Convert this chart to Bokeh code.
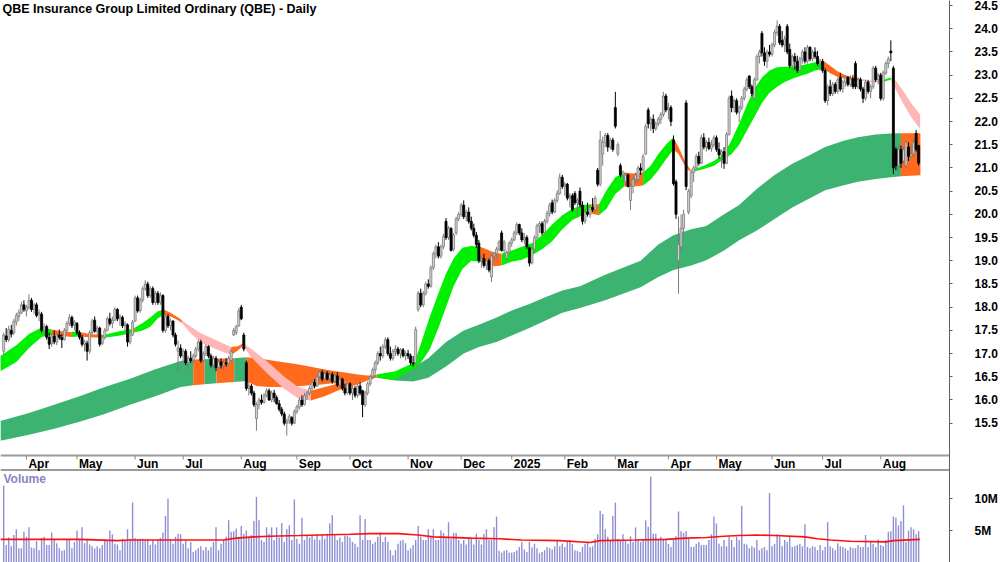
import numpy as np
from bokeh.plotting import figure
from bokeh.models import Range1d, FixedTicker, CustomJSTickFormatter, ColumnDataSource
from bokeh.core.properties import value
from bokeh.embed import file_html
from bokeh.resources import INLINE

# ---------------- data ----------------
title_text = "QBE Insurance Group Limited Ordinary (QBE) - Daily"
month_start_idx = [9, 29, 52, 71, 94, 116, 137, 160, 181, 201, 222, 242, 263, 282, 304, 324, 347]
month_labels = ["Apr", "May", "Jun", "Jul", "Aug", "Sep", "Oct", "Nov", "Dec", "2025",
                "Feb", "Mar", "Apr", "May", "Jun", "Jul", "Aug"]
price_ticks = [15.5, 16.0, 16.5, 17.0, 17.5, 18.0, 18.5, 19.0, 19.5, 20.0,
               20.5, 21.0, 21.5, 22.0, 22.5, 23.0, 23.5, 24.0, 24.5]
volume_ticks = [5, 10]

opens = [
    17.05, 17.38, 17.30, 17.50, 17.45, 17.68, 17.80, 17.88, 18.05, 17.92,
    18.00, 18.15, 17.95, 18.05, 17.85, 17.85, 17.50, 17.58, 17.35, 17.22,
    17.38, 17.25, 17.40, 17.35, 17.30, 17.50, 17.65, 17.78, 17.62, 17.65,
    17.45, 17.35, 17.20, 17.22, 17.05, 17.45, 17.72, 17.48, 17.55, 17.22,
    17.35, 17.50, 17.75, 17.65, 17.72, 17.95, 17.75, 17.78, 17.60, 17.62,
    17.25, 17.40, 17.70, 18.20, 17.92, 18.15, 18.40, 18.50, 18.25, 18.40,
    18.10, 18.30, 18.10, 18.25, 17.50, 17.80, 17.60, 17.70, 17.40, 17.05,
    17.12, 16.95, 17.05, 16.80, 16.90, 16.85, 16.95, 17.10, 17.25, 16.85,
    17.00, 17.15, 16.95, 16.75, 16.90, 16.70, 16.82, 16.75, 16.80, 16.78,
    16.85, 17.40, 17.45, 17.60, 18.00, 17.40, 16.80, 16.25, 16.30, 16.15,
    15.60, 15.90, 16.00, 15.95, 16.10, 16.20, 16.00, 16.15, 16.05, 15.92,
    15.80, 15.70, 15.50, 15.55, 15.62, 15.50, 15.75, 15.85, 16.00, 15.90,
    16.10, 16.15, 16.25, 16.38, 16.30, 16.50, 16.60, 16.45, 16.58, 16.45,
    16.55, 16.40, 16.52, 16.32, 16.45, 16.25, 16.15, 16.35, 16.15, 16.25,
    16.10, 16.30, 16.20, 15.90, 16.15, 16.35, 16.50, 16.65, 16.80, 17.00,
    16.95, 17.15, 17.30, 17.00, 16.90, 17.05, 17.10, 17.00, 17.08, 16.95,
    17.00, 16.95, 16.80, 16.80, 17.95, 18.30, 18.05, 18.30, 18.50, 18.45,
    18.85, 19.15, 19.30, 19.10, 19.30, 19.85, 19.50, 19.70, 19.25, 19.60,
    19.90, 20.00, 20.20, 19.95, 20.05, 19.85, 19.70, 19.55, 19.38, 19.00,
    19.05, 18.90, 19.00, 18.65, 19.10, 19.15, 19.25, 19.60, 19.22, 19.05,
    19.18, 19.38, 19.45, 19.60, 19.78, 19.60, 19.45, 19.50, 19.28, 18.95,
    19.25, 19.50, 19.75, 19.80, 19.60, 19.85, 20.02, 20.25, 20.05, 20.30,
    20.45, 20.80, 20.60, 20.65, 20.35, 20.40, 20.45, 20.25, 20.50, 20.20,
    19.85, 20.05, 20.00, 20.15, 20.10, 20.95, 20.65, 21.30, 21.55, 21.70,
    21.45, 21.60, 22.30, 21.30, 21.05, 20.85, 20.70, 20.85, 20.30, 20.60,
    20.75, 20.75, 21.00, 20.95, 21.30, 22.25, 21.95, 22.05, 21.85, 21.95,
    22.05, 22.15, 22.55, 22.25, 22.30, 21.60, 20.70, 19.00, 19.30, 19.70,
    22.40, 20.05, 20.40, 20.90, 21.00, 21.25, 21.10, 21.65, 21.45, 21.55,
    21.42, 21.50, 21.65, 21.40, 21.28, 21.35, 21.10, 21.72, 22.55, 22.30,
    22.45, 22.20, 22.30, 22.50, 22.70, 22.98, 22.75, 22.50, 22.90, 23.40,
    23.90, 23.48, 23.30, 23.50, 23.45, 23.65, 23.92, 24.05, 23.75, 23.65,
    24.05, 23.55, 23.20, 23.40, 23.30, 23.10, 23.35, 23.50, 23.30, 23.60,
    23.35, 23.50, 23.40, 23.25, 23.30, 23.10, 22.45, 22.75, 22.60, 22.80,
    22.65, 22.95, 22.70, 22.85, 22.95, 22.80, 22.92, 23.25, 22.75, 22.90,
    22.70, 22.50, 22.85, 22.65, 22.75, 23.15, 22.90, 23.00, 22.50, 23.05,
    23.25, 23.52, 23.15, 21.40, 21.05, 21.40, 21.15, 21.05, 21.45, 21.25,
    21.30, 21.75, 21.48]
highs = [
    17.45, 17.55, 17.60, 17.62, 17.75, 17.88, 17.95, 18.12, 18.15, 18.05,
    18.28, 18.20, 18.10, 18.10, 17.95, 17.90, 17.65, 17.62, 17.45, 17.45,
    17.50, 17.45, 17.52, 17.42, 17.55, 17.70, 17.85, 17.82, 17.72, 17.68,
    17.50, 17.40, 17.30, 17.28, 17.50, 17.75, 17.80, 17.60, 17.58, 17.40,
    17.55, 17.80, 17.88, 17.80, 18.00, 17.98, 17.85, 17.82, 17.70, 17.65,
    17.45, 17.72, 18.25, 18.25, 18.20, 18.45, 18.58, 18.55, 18.45, 18.45,
    18.35, 18.35, 18.32, 18.28, 17.85, 17.85, 17.75, 17.72, 17.45, 17.28,
    17.20, 17.10, 17.10, 16.95, 17.05, 17.00, 17.15, 17.30, 17.30, 17.05,
    17.20, 17.18, 17.00, 16.95, 16.95, 16.88, 16.90, 16.85, 16.90, 16.95,
    17.10, 17.55, 17.62, 17.98, 18.05, 17.45, 16.85, 16.40, 16.35, 16.20,
    15.95, 16.05, 16.12, 16.15, 16.25, 16.25, 16.20, 16.22, 16.10, 16.00,
    15.85, 15.75, 15.60, 15.70, 15.65, 15.80, 15.90, 16.05, 16.10, 16.15,
    16.20, 16.30, 16.42, 16.45, 16.55, 16.65, 16.65, 16.62, 16.62, 16.60,
    16.60, 16.58, 16.60, 16.50, 16.48, 16.35, 16.40, 16.38, 16.30, 16.30,
    16.35, 16.38, 16.22, 16.20, 16.40, 16.55, 16.70, 16.85, 17.05, 17.15,
    17.20, 17.35, 17.35, 17.15, 17.10, 17.18, 17.15, 17.12, 17.12, 17.05,
    17.08, 17.00, 16.95, 17.58, 18.35, 18.40, 18.35, 18.55, 18.60, 18.90,
    19.20, 19.35, 19.40, 19.35, 19.58, 19.92, 19.75, 19.72, 19.60, 19.95,
    20.05, 20.25, 20.30, 20.10, 20.15, 19.95, 19.80, 19.62, 19.45, 19.10,
    19.15, 19.05, 19.05, 19.15, 19.20, 19.30, 19.45, 19.65, 19.45, 19.22,
    19.42, 19.50, 19.65, 19.83, 19.80, 19.70, 19.60, 19.55, 19.30, 19.30,
    19.55, 19.80, 19.85, 19.85, 19.90, 20.08, 20.25, 20.32, 20.35, 20.52,
    20.88, 20.85, 20.70, 20.68, 20.45, 20.45, 20.50, 20.35, 20.58, 20.28,
    20.10, 20.25, 20.20, 20.35, 20.40, 21.00, 21.80, 21.67, 21.75, 21.75,
    21.65, 21.65, 22.64, 21.55, 21.10, 20.95, 20.90, 20.88, 20.66, 20.80,
    20.90, 21.05, 21.10, 21.30, 21.95, 22.30, 22.10, 22.15, 22.00, 22.10,
    22.20, 22.64, 22.60, 22.40, 22.35, 21.70, 20.75, 19.95, 20.00, 20.10,
    22.46, 20.55, 20.95, 21.05, 21.30, 21.35, 21.72, 21.75, 21.60, 21.65,
    21.60, 21.70, 21.70, 21.55, 21.40, 21.45, 21.77, 22.56, 22.67, 22.50,
    22.50, 22.35, 22.55, 22.75, 22.95, 23.00, 22.80, 22.95, 23.45, 23.55,
    23.95, 23.60, 23.55, 23.65, 23.70, 23.98, 24.18, 24.10, 23.95, 23.85,
    24.10, 23.68, 23.45, 23.48, 23.42, 23.40, 23.55, 23.60, 23.65, 23.62,
    23.55, 23.60, 23.52, 23.35, 23.35, 23.15, 22.80, 22.90, 22.85, 22.85,
    22.95, 23.05, 22.90, 23.00, 22.98, 23.00, 23.00, 23.30, 22.95, 22.95,
    22.75, 22.90, 22.90, 22.80, 23.20, 23.20, 23.05, 23.05, 23.10, 23.30,
    23.40, 23.75, 23.20, 21.45, 21.50, 21.48, 21.45, 21.60, 21.55, 21.50,
    21.62, 21.82, 21.50]
lows = [
    16.98, 17.25, 17.25, 17.35, 17.40, 17.60, 17.70, 17.85, 17.90, 17.80,
    17.95, 17.90, 17.85, 17.78, 17.70, 17.45, 17.40, 17.30, 17.10, 17.15,
    17.20, 17.18, 17.30, 17.12, 17.28, 17.45, 17.60, 17.55, 17.50, 17.40,
    17.30, 17.15, 17.05, 16.85, 17.00, 17.42, 17.45, 17.40, 17.15, 17.18,
    17.30, 17.48, 17.60, 17.55, 17.70, 17.70, 17.60, 17.55, 17.50, 17.15,
    17.20, 17.38, 17.68, 17.88, 17.88, 18.10, 18.35, 18.20, 18.20, 18.05,
    18.05, 18.05, 18.05, 17.45, 17.45, 17.55, 17.50, 17.35, 17.15, 16.60,
    16.90, 16.80, 16.75, 16.65, 16.80, 16.78, 16.90, 17.05, 16.80, 16.80,
    16.95, 16.90, 16.70, 16.65, 16.62, 16.65, 16.68, 16.65, 16.72, 16.75,
    16.80, 17.38, 17.40, 17.57, 17.72, 17.05, 16.20, 16.10, 16.10, 15.85,
    15.34, 15.80, 15.90, 15.92, 16.05, 15.98, 15.95, 15.95, 15.90, 15.75,
    15.65, 15.45, 15.23, 15.48, 15.45, 15.48, 15.70, 15.80, 15.85, 15.88,
    16.00, 16.10, 16.20, 16.25, 16.28, 16.45, 16.40, 16.40, 16.42, 16.40,
    16.35, 16.35, 16.28, 16.25, 16.20, 16.10, 16.12, 16.10, 16.00, 16.05,
    16.05, 16.10, 15.63, 15.85, 16.10, 16.30, 16.45, 16.55, 16.75, 16.85,
    16.90, 17.10, 16.95, 16.85, 16.85, 16.95, 16.95, 16.90, 16.92, 16.85,
    16.88, 16.75, 16.72, 16.78, 17.90, 18.00, 18.00, 18.25, 18.40, 18.42,
    18.80, 19.05, 19.05, 19.05, 19.25, 19.45, 19.45, 19.20, 19.20, 19.55,
    19.85, 19.95, 19.90, 19.85, 19.80, 19.65, 19.50, 19.28, 18.95, 18.85,
    18.85, 18.80, 18.75, 18.54, 19.00, 19.05, 19.20, 19.20, 19.15, 19.00,
    19.15, 19.30, 19.42, 19.55, 19.55, 19.40, 19.35, 19.25, 18.88, 18.92,
    19.20, 19.45, 19.60, 19.55, 19.58, 19.80, 19.95, 20.00, 20.02, 20.25,
    20.42, 20.55, 20.40, 20.30, 20.15, 20.05, 20.20, 19.95, 20.15, 19.78,
    19.80, 19.95, 19.92, 20.05, 20.05, 20.60, 20.60, 21.05, 21.45, 21.35,
    21.40, 21.35, 21.85, 21.25, 20.80, 20.70, 20.62, 20.58, 20.09, 20.45,
    20.65, 20.70, 20.85, 20.90, 21.28, 21.85, 21.80, 21.75, 21.80, 21.90,
    21.95, 22.10, 22.20, 22.05, 21.90, 20.62, 19.90, 18.29, 19.20, 19.50,
    20.52, 20.00, 20.35, 20.70, 20.98, 21.05, 21.08, 21.40, 21.35, 21.38,
    21.35, 21.45, 21.35, 21.20, 21.00, 20.98, 21.08, 21.70, 22.20, 22.20,
    22.15, 21.99, 22.25, 22.45, 22.65, 22.70, 22.55, 22.45, 22.88, 23.25,
    23.40, 23.20, 23.15, 23.40, 23.40, 23.60, 23.85, 23.65, 23.60, 23.50,
    23.45, 23.15, 23.10, 23.12, 23.05, 23.05, 23.25, 23.25, 23.25, 23.30,
    23.30, 23.35, 23.20, 23.10, 23.05, 22.40, 22.35, 22.55, 22.55, 22.60,
    22.60, 22.65, 22.62, 22.75, 22.75, 22.75, 22.70, 22.70, 22.70, 22.65,
    22.40, 22.45, 22.60, 22.50, 22.70, 22.85, 22.80, 22.45, 22.45, 23.00,
    23.15, 23.30, 20.87, 20.95, 20.92, 21.00, 21.10, 21.00, 21.15, 21.20,
    21.25, 21.35, 21.05]
closes = [
    17.40, 17.30, 17.52, 17.42, 17.70, 17.82, 17.88, 18.05, 17.95, 18.00,
    18.15, 17.95, 18.05, 17.82, 17.88, 17.50, 17.58, 17.35, 17.20, 17.38,
    17.25, 17.40, 17.35, 17.30, 17.50, 17.65, 17.78, 17.60, 17.68, 17.45,
    17.35, 17.20, 17.25, 17.05, 17.45, 17.70, 17.48, 17.55, 17.20, 17.35,
    17.50, 17.75, 17.65, 17.72, 17.95, 17.75, 17.80, 17.60, 17.65, 17.25,
    17.40, 17.68, 18.20, 17.92, 18.15, 18.40, 18.50, 18.25, 18.40, 18.10,
    18.30, 18.10, 18.25, 17.50, 17.80, 17.60, 17.70, 17.40, 17.20, 17.12,
    16.95, 17.05, 16.80, 16.90, 16.85, 16.95, 17.10, 17.25, 16.85, 17.00,
    17.15, 16.95, 16.75, 16.90, 16.70, 16.82, 16.75, 16.80, 16.78, 16.90,
    17.05, 17.50, 17.58, 17.92, 17.75, 17.10, 16.25, 16.30, 16.15, 15.90,
    15.90, 16.00, 15.95, 16.10, 16.20, 16.00, 16.15, 16.05, 15.92, 15.80,
    15.70, 15.50, 15.55, 15.65, 15.50, 15.75, 15.85, 16.00, 15.90, 16.10,
    16.15, 16.25, 16.38, 16.30, 16.50, 16.60, 16.45, 16.58, 16.45, 16.55,
    16.40, 16.52, 16.32, 16.45, 16.25, 16.15, 16.35, 16.15, 16.25, 16.10,
    16.30, 16.15, 15.90, 16.15, 16.35, 16.50, 16.65, 16.80, 17.00, 16.95,
    17.15, 17.30, 17.00, 16.90, 17.05, 17.10, 17.00, 17.08, 16.95, 17.00,
    16.95, 16.80, 16.78, 17.52, 18.30, 18.05, 18.30, 18.50, 18.45, 18.85,
    19.15, 19.30, 19.10, 19.30, 19.52, 19.50, 19.70, 19.22, 19.55, 19.90,
    20.00, 20.20, 19.95, 20.05, 19.85, 19.70, 19.55, 19.35, 19.00, 19.05,
    18.90, 19.00, 18.80, 19.10, 19.15, 19.25, 19.40, 19.22, 19.40, 19.18,
    19.38, 19.45, 19.60, 19.78, 19.60, 19.45, 19.50, 19.30, 18.95, 19.25,
    19.50, 19.75, 19.80, 19.60, 19.85, 20.02, 20.20, 20.05, 20.30, 20.45,
    20.80, 20.60, 20.65, 20.35, 20.40, 20.10, 20.25, 20.30, 20.20, 19.85,
    20.05, 20.00, 20.15, 20.10, 20.35, 20.65, 21.60, 21.55, 21.70, 21.45,
    21.60, 21.40, 21.90, 21.50, 20.85, 20.90, 20.85, 20.60, 20.60, 20.75,
    20.85, 21.00, 20.95, 21.25, 21.90, 21.95, 22.05, 21.85, 21.95, 22.05,
    22.15, 22.55, 22.25, 22.30, 22.00, 20.66, 20.00, 19.35, 19.70, 20.00,
    20.60, 20.50, 20.90, 21.00, 21.25, 21.10, 21.65, 21.45, 21.55, 21.42,
    21.50, 21.65, 21.40, 21.28, 21.35, 21.10, 21.72, 22.50, 22.30, 22.45,
    22.20, 22.30, 22.50, 22.70, 22.90, 22.75, 22.60, 22.90, 23.40, 23.50,
    23.48, 23.30, 23.50, 23.45, 23.65, 23.92, 24.05, 23.70, 23.65, 23.78,
    23.50, 23.20, 23.40, 23.30, 23.10, 23.35, 23.50, 23.30, 23.60, 23.35,
    23.50, 23.40, 23.25, 23.30, 23.10, 22.45, 22.75, 22.60, 22.80, 22.65,
    22.90, 22.70, 22.85, 22.95, 22.80, 22.92, 22.75, 22.75, 22.90, 22.70,
    22.50, 22.85, 22.65, 22.75, 23.15, 22.90, 23.00, 22.50, 23.05, 23.25,
    23.35, 23.48, 21.00, 21.05, 21.40, 21.10, 21.40, 21.55, 21.25, 21.30,
    21.55, 21.40, 21.10]
volumes_m = [
    12.1, 2.7, 3.9, 2.5, 4.3, 5.2, 2.2, 2.2, 4.8, 4.0,
    5.5, 2.3, 2.2, 3.3, 1.9, 3.8, 4.0, 2.7, 2.7, 4.7,
    3.5, 3.0, 2.2, 1.8, 1.9, 3.5, 3.5, 2.2, 3.2, 5.0,
    3.5, 5.5, 3.0, 3.5, 2.8, 2.5, 2.2, 2.5, 2.2, 2.7,
    3.6, 3.5, 5.0, 4.4, 2.9, 2.8, 1.9, 3.7, 3.5, 5.2,
    3.7, 9.4, 3.8, 3.6, 3.7, 3.7, 3.5, 3.6, 2.7, 3.5,
    2.8, 3.5, 3.8, 4.7, 7.3, 10.0, 3.6, 2.9, 4.0, 4.5,
    4.4, 2.9, 3.5, 2.2, 3.2, 1.6, 1.9, 2.2, 2.5, 1.9,
    2.4, 1.9, 2.4, 3.2, 5.5, 1.9, 2.9, 3.5, 4.0, 6.6,
    4.8, 4.9, 5.3, 4.0, 5.7, 4.5, 5.0, 4.0, 4.3, 6.5,
    10.3, 6.6, 3.5, 3.2, 5.5, 4.5, 5.5, 3.5, 5.5, 3.9,
    6.2, 3.2, 5.2, 5.8, 3.5, 9.9, 3.7, 2.9, 7.0, 3.5,
    4.3, 3.9, 4.3, 3.6, 4.4, 3.5, 4.3, 3.7, 4.5, 6.1,
    7.4, 4.3, 3.5, 3.9, 3.2, 4.2, 4.2, 3.9, 3.2, 2.9,
    2.4, 7.4, 3.5, 6.8, 3.5, 3.5, 2.9, 3.2, 4.0, 4.7,
    3.2, 4.0, 3.2, 1.9, 1.1, 1.9, 2.9, 3.4, 3.5, 3.0,
    1.9, 2.2, 2.7, 3.5, 5.7, 4.0, 3.5, 3.5, 5.2, 4.0,
    5.2, 3.5, 3.5, 5.0, 4.6, 4.0, 6.3, 3.7, 4.6, 4.6,
    3.5, 2.9, 3.5, 2.8, 3.7, 3.7, 2.8, 4.5, 3.5, 2.8,
    4.5, 5.2, 3.5, 3.5, 5.5, 7.2, 1.8, 1.5, 1.8, 1.9,
    1.5, 1.5, 1.6, 1.9, 2.4, 3.2, 2.0, 1.6, 3.2, 2.3,
    2.9, 2.2, 1.4, 1.6, 1.9, 2.4, 2.2, 2.0, 2.5, 3.5,
    2.5, 2.9, 2.4, 3.2, 3.5, 2.9, 1.9, 1.8, 1.6, 2.4,
    2.9, 3.2, 2.4, 2.5, 3.7, 4.4, 8.1, 7.6, 5.2, 4.0,
    3.5, 7.3, 9.4, 3.7, 3.5, 4.4, 3.5, 2.9, 4.1, 3.2,
    5.5, 3.5, 3.2, 3.5, 6.6, 5.6, 13.5, 4.5, 4.5, 3.5,
    4.0, 3.5, 3.5, 2.9, 2.4, 3.5, 4.1, 8.0, 4.9, 4.6,
    4.9, 3.7, 2.4, 2.4, 2.9, 3.2, 2.7, 2.7, 2.7, 3.5,
    4.4, 7.2, 6.1, 2.9, 2.5, 3.5, 2.5, 4.0, 3.5, 2.4,
    4.0, 3.5, 8.9, 2.9, 2.8, 2.2, 2.5, 2.3, 3.5, 1.9,
    2.2, 2.4, 1.9, 10.9, 2.5, 2.9, 4.4, 4.0, 2.5, 3.5,
    3.2, 4.0, 2.4, 2.5, 2.7, 2.9, 2.5, 6.0, 2.4, 2.2,
    2.5, 2.4, 1.9, 2.7, 1.9, 2.4, 6.3, 2.5, 2.2, 1.9,
    3.0, 2.5, 2.4, 2.2, 1.9, 2.4, 2.2, 2.2, 2.7, 2.4,
    2.4, 4.3, 2.4, 3.2, 2.9, 2.4, 3.6, 2.7, 2.5, 3.5,
    4.8, 4.9, 7.2, 7.0, 5.8, 6.5, 9.0, 3.2, 5.0, 5.5,
    5.2, 4.4, 4.9]
vol_ma_idx = [-1.3, 12, 30, 45, 50, 70, 87, 92, 99, 105, 117, 125, 137, 145, 156, 164,
              170, 185, 196, 205, 220, 232, 236, 250, 262, 270, 278, 285, 291, 298,
              305, 317, 322, 327, 335, 349, 352, 362.5]
vol_ma_m = [3.6, 3.6, 3.6, 3.4, 3.5, 3.5, 3.5, 3.8, 4.0, 4.1, 4.2, 4.3, 4.4, 4.5, 4.5, 4.3,
            4.0, 3.8, 3.7, 3.5, 3.4, 3.1, 3.4, 3.5, 3.6, 3.8, 3.9, 4.1, 4.2, 4.3,
            4.2, 4.0, 3.7, 3.5, 3.3, 3.2, 3.4, 3.6]

# short-term ribbon (segments): colour code, x (bar index), upper and lower edge
short_color = ["g", "o", "g", "o", "g", "o", "g", "o", "p", "o", "p", "o", "g",
               "o", "g", "o", "g", "o", "g", "o", "p", "g", "o", "p", "g", "p"]
short_idx = [
    [-1.3, 5, 10, 15, 19], [19, 23, 27], [27, 29.5], [29.5, 34, 39.5],
    [39.5, 45, 50.5], [50.5, 52], [52, 55, 58, 61, 63.3], [63.3, 66, 69, 70.5],
    [70.5, 74, 78, 82, 86, 90], [90, 92.5, 94.7],
    [94.7, 98, 104.5, 111, 116.5, 121.5], [121.5, 127, 133, 139, 145, 147.5],
    [147.5, 151, 155, 159, 162.5, 165, 168.5, 172, 175, 178, 181.5, 185, 188.5],
    [188.5, 191, 194, 197], [197, 201, 205, 209, 213, 217, 221, 225, 229, 232.5],
    [232.5, 235.5], [235.5, 238.5, 242, 245.5], [245.5, 249, 253],
    [253, 256, 259, 262, 265], [265, 267, 269.5, 271.5], [271.5, 273.5],
    [273.5, 277, 281, 285, 288, 291, 294, 297, 300, 303, 306, 309, 312, 315, 318, 321, 324.5],
    [324.5, 327, 330, 333, 336, 339], [339, 343, 347.5], [347.5, 349.5, 351],
    [351, 353, 356, 359, 362.6]]
short_top = [
    [16.95, 17.18, 17.42, 17.56, 17.52], [17.52, 17.48, 17.46], [17.47, 17.47],
    [17.47, 17.42, 17.40], [17.40, 17.47, 17.53], [17.53, 17.56],
    [17.56, 17.66, 17.78, 17.91, 17.95], [17.95, 17.88, 17.78, 17.72],
    [17.72, 17.58, 17.44, 17.34, 17.24, 17.14], [17.14, 17.16, 17.22],
    [17.22, 17.10, 16.82, 16.50, 16.28, 16.20], [16.20, 16.28, 16.36, 16.43, 16.52, 16.55],
    [16.55, 16.58, 16.62, 16.72, 16.80, 17.20, 17.78, 18.30, 18.72, 19.05, 19.28, 19.32, 19.30],
    [19.30, 19.25, 19.18, 19.15],
    [19.15, 19.22, 19.30, 19.38, 19.55, 19.78, 19.98, 20.12, 20.20, 20.22],
    [20.22, 20.22], [20.22, 20.52, 20.80, 20.90], [20.90, 20.88, 20.90],
    [20.90, 21.05, 21.30, 21.50, 21.66], [21.66, 21.45, 21.15, 20.98], [20.98, 20.98],
    [20.98, 21.05, 21.15, 21.30, 21.60, 21.95, 22.35, 22.70, 22.95, 23.10, 23.17, 23.18,
     23.18, 23.20, 23.24, 23.28, 23.30],
    [23.30, 23.20, 23.08, 23.00, 22.95, 22.92], [22.92, 22.88, 22.88], [22.88, 22.93, 22.95],
    [22.95, 22.88, 22.65, 22.40, 22.15]]
short_bot = [
    [16.62, 16.82, 17.12, 17.36, 17.40], [17.40, 17.38, 17.36], [17.36, 17.37],
    [17.37, 17.35, 17.34], [17.34, 17.38, 17.44], [17.44, 17.46],
    [17.46, 17.50, 17.58, 17.76, 17.83], [17.83, 17.80, 17.72, 17.66],
    [17.66, 17.44, 17.24, 17.14, 17.05, 16.97], [16.97, 17.06, 17.17],
    [17.17, 16.92, 16.56, 16.24, 16.03, 15.99], [15.99, 16.08, 16.22, 16.32, 16.44, 16.50],
    [16.50, 16.45, 16.44, 16.58, 16.68, 16.80, 17.08, 17.55, 18.00, 18.45, 18.82, 19.00, 18.98],
    [18.98, 18.92, 18.88, 18.90],
    [18.90, 18.98, 19.02, 19.12, 19.25, 19.42, 19.68, 19.88, 19.98, 20.02],
    [20.02, 19.98], [19.98, 20.12, 20.44, 20.60], [20.60, 20.60, 20.62],
    [20.62, 20.75, 20.95, 21.18, 21.40], [21.40, 21.30, 21.05, 20.92], [20.92, 20.93],
    [20.93, 20.98, 21.05, 21.20, 21.30, 21.50, 21.80, 22.10, 22.40, 22.62, 22.75, 22.85,
     22.92, 22.98, 23.03, 23.10, 23.14],
    [23.14, 23.04, 22.96, 22.92, 22.89, 22.88], [22.88, 22.85, 22.84], [22.84, 22.88, 22.90],
    [22.90, 22.68, 22.38, 22.10, 21.84]]

# long-term ribbon (segments)
long_color = ["G", "o", "G", "o", "G", "o", "G", "o"]
long_idx = [
    [-1.3, 10, 20, 30, 40, 50, 60, 70, 75], [75, 79.5], [79.5, 84.2], [84.2, 91.2],
    [91.2, 96], [96, 100, 105, 110, 115, 120, 125, 130, 135, 140, 145, 147.5],
    [147.5, 155, 162, 168, 175, 182, 188, 195, 201, 208, 214, 221, 228, 238, 252, 259,
     265, 272, 278, 285, 291, 298, 305, 312, 318, 325, 332, 338, 345, 351, 355],
    [355, 362.7]]
long_top = [
    [15.55, 15.72, 15.90, 16.08, 16.28, 16.46, 16.66, 16.84, 16.87], [16.87, 16.88],
    [16.88, 16.89], [16.89, 16.90], [16.90, 16.92],
    [16.92, 16.90, 16.86, 16.82, 16.78, 16.73, 16.68, 16.63, 16.59, 16.55, 16.52, 16.50],
    [16.50, 16.55, 16.70, 16.90, 17.25, 17.50, 17.62, 17.78, 17.93, 18.07, 18.21, 18.36,
     18.45, 18.70, 19.00, 19.35, 19.55, 19.68, 19.75, 20.00, 20.20, 20.55, 20.85, 21.09,
     21.25, 21.45, 21.58, 21.66, 21.72, 21.74, 21.75],
    [21.75, 21.75]]
long_bot = [
    [15.12, 15.25, 15.38, 15.53, 15.70, 15.90, 16.08, 16.28, 16.32], [16.32, 16.34],
    [16.34, 16.36], [16.36, 16.39], [16.39, 16.41],
    [16.41, 16.30, 16.28, 16.28, 16.29, 16.31, 16.33, 16.36, 16.39, 16.43, 16.46, 16.48],
    [16.48, 16.42, 16.40, 16.48, 16.72, 17.00, 17.14, 17.25, 17.39, 17.55, 17.70, 17.88,
     17.98, 18.15, 18.43, 18.65, 18.80, 18.90, 19.01, 19.22, 19.44, 19.65, 19.90, 20.15,
     20.32, 20.52, 20.62, 20.70, 20.76, 20.80, 20.82],
    [20.82, 20.84]]

# ---------------- layout (pixel geometry) ----------------
W, H = 1000, 562
FRAME_W = 952
X0_PX, DX_PX = 3.2, 2.5355          # x pixel of bar 0, pixels per bar
P_TOP, PX_PER_UNIT = 24.608, 46.41   # price at top edge, pixels per $1
VOL_ZERO_PX, PX_PER_M = 561.7, 6.34  # volume baseline pixel, pixels per million

def xi(px):
    return (px - X0_PX) / DX_PX

def yp(py):
    return P_TOP - py / PX_PER_UNIT

FONT = "Liberation Sans Narrow, Liberation Sans, Arial, sans-serif"

p = figure(width=W, height=H, output_backend="svg", toolbar_location=None,
           x_range=Range1d(xi(0), xi(FRAME_W)), y_range=Range1d(yp(H), P_TOP),
           x_axis_location=None, y_axis_location="right",
           min_border_left=0, min_border_right=W - FRAME_W, min_border_top=0, min_border_bottom=0,
           outline_line_color=None, background_fill_color="white", border_fill_color="white")
p.extra_y_ranges = {"vol": Range1d(-(H - VOL_ZERO_PX) / PX_PER_M, VOL_ZERO_PX / PX_PER_M)}
p.grid.visible = False

# right axis: price ticks plus volume ticks (placed at their pixel heights)
vol_tick_pos = [yp(VOL_ZERO_PX - v * PX_PER_M) for v in volume_ticks]
ax = p.yaxis[0]
ax.ticker = FixedTicker(ticks=price_ticks + vol_tick_pos)
ax.formatter = CustomJSTickFormatter(
    args=dict(cut=15.0, base=yp(VOL_ZERO_PX), k=PX_PER_UNIT / PX_PER_M),
    code="if (tick < cut) { return Math.round((tick - base) * k) + 'M'; } return tick.toFixed(1);")
ax.axis_line_color = "#606060"
ax.major_tick_line_color = "#606060"
ax.minor_tick_line_color = None
ax.major_tick_out = 3
ax.major_tick_in = 0
ax.major_label_standoff = 22
ax.major_label_text_font = FONT
ax.major_label_text_font_style = "bold"
ax.major_label_text_font_size = "12px"
ax.major_label_text_color = "#000000"

colors = {"g": "#00f000", "o": "#ff6a1c", "p": "#ffb6b6", "G": "#3cb371"}

for c, xs, t, b in zip(long_color, long_idx, long_top, long_bot):
    p.varea(x=xs, y1=b, y2=t, fill_color=colors[c])
for c, xs, t, b in zip(short_color, short_idx, short_top, short_bot):
    p.varea(x=xs, y1=b, y2=t, fill_color=colors[c])

# candles
o = np.array(opens); h = np.array(highs); l = np.array(lows); c = np.array(closes)
idx = np.arange(len(c))
up = c >= o
for mask, fill, line in [(up, "#d4d4d4", "#7c7c7c"), (~up, "#000000", "#000000")]:
    src = ColumnDataSource(dict(x=idx[mask], high=h[mask], low=l[mask],
                                top=np.maximum(o, c)[mask], bottom=np.minimum(o, c)[mask]))
    p.segment(x0="x", y0="low", x1="x", y1="high", source=src, line_color=line, line_width=1)
    p.vbar(x="x", width=0.8, top="top", bottom="bottom", source=src,
           fill_color=fill, line_color=line, line_width=0.8)

# volume pane
p.vbar(x=idx, width=0.55, top=volumes_m, bottom=0, y_range_name="vol",
       fill_color="#8e8ed4", line_color=None)
p.line(x=vol_ma_idx, y=vol_ma_m, y_range_name="vol", line_color="#ff1010", line_width=1.6)

# date band between panes
p.segment(x0=[xi(0)], x1=[xi(FRAME_W)], y0=[yp(455)], y1=[yp(455)],
          line_color="#9a9a9a", line_width=2)
p.segment(x0=[xi(0)], x1=[xi(FRAME_W)], y0=[yp(469.5)], y1=[yp(469.5)],
          line_color="#7a7a7a", line_width=1.5)
p.segment(x0=month_start_idx, x1=month_start_idx,
          y0=[yp(455)] * len(month_start_idx), y1=[yp(459)] * len(month_start_idx),
          line_color="#8a8a8a", line_width=1)
p.text(x=[m + 2 / DX_PX for m in month_start_idx], y=[yp(463)] * len(month_start_idx),
       text=month_labels, text_font=value(FONT), text_font_style="bold",
       text_font_size="12px", text_baseline="middle", text_align="left", text_color="#000000")

# titles
p.text(x=[xi(2)], y=[yp(8.5)], text=[title_text], text_font=value(FONT),
       text_font_style="bold", text_font_size="12.5px", text_baseline="middle",
       text_align="left", text_color="#000000")
p.text(x=[xi(3)], y=[yp(478)], text=["Volume"], text_font=value(FONT),
       text_font_style="bold", text_font_size="12px", text_baseline="middle",
       text_align="left", text_color="#8585c6")

open("out.html", "w").write(file_html(p, INLINE, title="QBE Daily"))
